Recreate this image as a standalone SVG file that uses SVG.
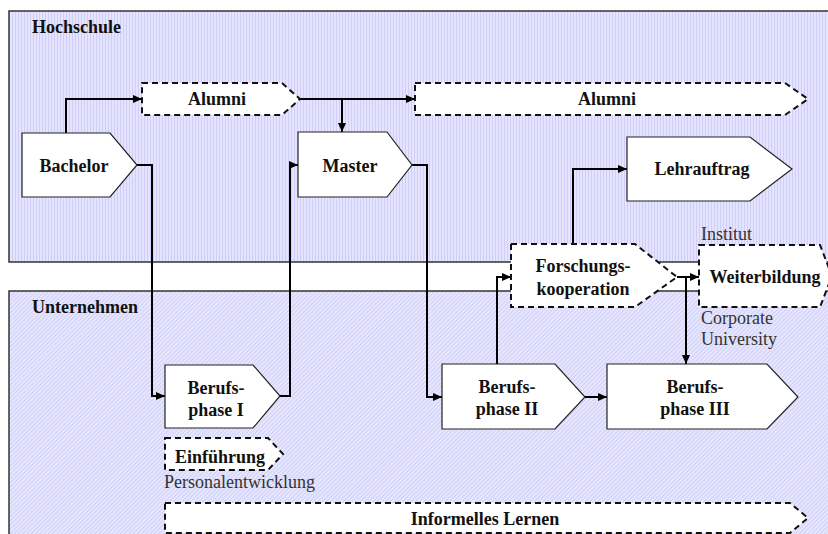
<svg xmlns="http://www.w3.org/2000/svg" width="828" height="534" viewBox="0 0 828 534">
<style>
.region{stroke:#333;stroke-width:1.5}
.node{fill:#fff;stroke:#222;stroke-width:1.2}
.dash{fill:#fff;stroke:#111;stroke-width:2;stroke-dasharray:6 4}
.lbl{font-family:"Liberation Serif","Times New Roman",serif;font-weight:bold;font-size:18px;fill:#111}
.sub{font-family:"Liberation Serif","Times New Roman",serif;font-size:18px;fill:#333}
.conn path{fill:none;stroke:#000;stroke-width:2}
</style>
<defs>
<pattern id="vstripe" width="3" height="10" patternUnits="userSpaceOnUse">
<rect width="3" height="10" fill="#e4e4fe"/>
<rect width="1" height="10" fill="#ceceF6"/>
</pattern>
<pattern id="dstripe" width="3" height="10" patternUnits="userSpaceOnUse" patternTransform="rotate(45)">
<rect width="3" height="10" fill="#e6e6fe"/>
<rect width="1" height="10" fill="#d0d0f6"/>
</pattern>
<marker id="arr" markerWidth="9" markerHeight="8" refX="9" refY="4" orient="auto" markerUnits="userSpaceOnUse">
<path d="M0,0 L9,4 L0,8 z" fill="#000"/>
</marker>
</defs>
<rect width="828" height="534" fill="#fff"/>
<g id="hochschule">
<rect class="region" x="9" y="11" width="830" height="251" fill="url(#vstripe)"/>
<text class="lbl" x="32" y="33">Hochschule</text>
</g>
<g id="unternehmen">
<rect class="region" x="9" y="291" width="830" height="260" fill="url(#dstripe)"/>
<text class="lbl" x="32" y="313">Unternehmen</text>
</g>
<g class="conn" id="connectors">
<path d="M66,133 V99 H142" marker-end="url(#arr)"/>
<path d="M300,99 H415" marker-end="url(#arr)"/>
<path d="M342,99 V132" marker-end="url(#arr)"/>
<path d="M137,165 H152 V396 H165" marker-end="url(#arr)"/>
<path d="M280,396 H290 V165 H298" marker-end="url(#arr)"/>
<path d="M412,165 H427 V397 H442" marker-end="url(#arr)"/>
<path d="M585,397 H607" marker-end="url(#arr)"/>
<path d="M497,364 V277 H511" marker-end="url(#arr)"/>
<path d="M573,244 V169 H627" marker-end="url(#arr)"/>
<path d="M677,277 H699" marker-end="url(#arr)"/>
<path d="M686,277 V364" marker-end="url(#arr)"/>
</g>
<g id="bachelor">
<polygon class="node" points="22,133 110,133 137,165 110,197 22,197"/>
<text class="lbl" x="74" y="172" text-anchor="middle">Bachelor</text>
</g>
<g id="alumni1">
<polygon class="dash" points="142,83 282,83 300,99 282,115 142,115"/>
<text class="lbl" x="217" y="105" text-anchor="middle">Alumni</text>
</g>
<g id="alumni2">
<polygon class="dash" points="415,83 785,83 808,99 785,115 415,115"/>
<text class="lbl" x="607" y="105" text-anchor="middle">Alumni</text>
</g>
<g id="master">
<polygon class="node" points="298,132 387,132 412,165 387,197 298,197"/>
<text class="lbl" x="350" y="172" text-anchor="middle">Master</text>
</g>
<g id="lehrauftrag">
<polygon class="node" points="627,137 750,137 792,169 750,201 627,201"/>
<text class="lbl" x="702" y="175" text-anchor="middle">Lehrauftrag</text>
</g>
<g id="forschungskooperation">
<polygon class="dash" points="511,244 635,244 677,277 635,307 511,307"/>
<text class="lbl" x="583" y="272" text-anchor="middle">Forschungs-</text>
<text class="lbl" x="583" y="295" text-anchor="middle">kooperation</text>
</g>
<g id="weiterbildung">
<polygon class="dash" points="699,245 820,245 832,276 820,307 699,307"/>
<text class="lbl" x="765" y="283" text-anchor="middle">Weiterbildung</text>
<text class="sub" x="701" y="240">Institut</text>
<text class="sub" x="701" y="324">Corporate</text>
<text class="sub" x="701" y="345">University</text>
</g>
<g id="berufsphase1">
<polygon class="node" points="165,365 253,365 280,396 253,428 165,428"/>
<text class="lbl" x="216" y="394" text-anchor="middle">Berufs-</text>
<text class="lbl" x="216" y="416" text-anchor="middle">phase I</text>
</g>
<g id="berufsphase2">
<polygon class="node" points="442,364 555,364 585,397 555,429 442,429"/>
<text class="lbl" x="507" y="393" text-anchor="middle">Berufs-</text>
<text class="lbl" x="507" y="415" text-anchor="middle">phase II</text>
</g>
<g id="berufsphase3">
<polygon class="node" points="607,364 767,364 798,397 767,429 607,429"/>
<text class="lbl" x="695" y="393" text-anchor="middle">Berufs-</text>
<text class="lbl" x="695" y="415" text-anchor="middle">phase III</text>
</g>
<g id="einfuehrung">
<polygon class="dash" points="165,438 268,438 283,454 268,470 165,470"/>
<text class="lbl" x="175" y="463">Einführung</text>
<text class="sub" x="164" y="488">Personalentwicklung</text>
</g>
<g id="informelles-lernen">
<polygon class="dash" points="165,503 790,503 808,518 790,533 165,533"/>
<text class="lbl" x="485" y="525" text-anchor="middle">Informelles Lernen</text>
</g>
</svg>
